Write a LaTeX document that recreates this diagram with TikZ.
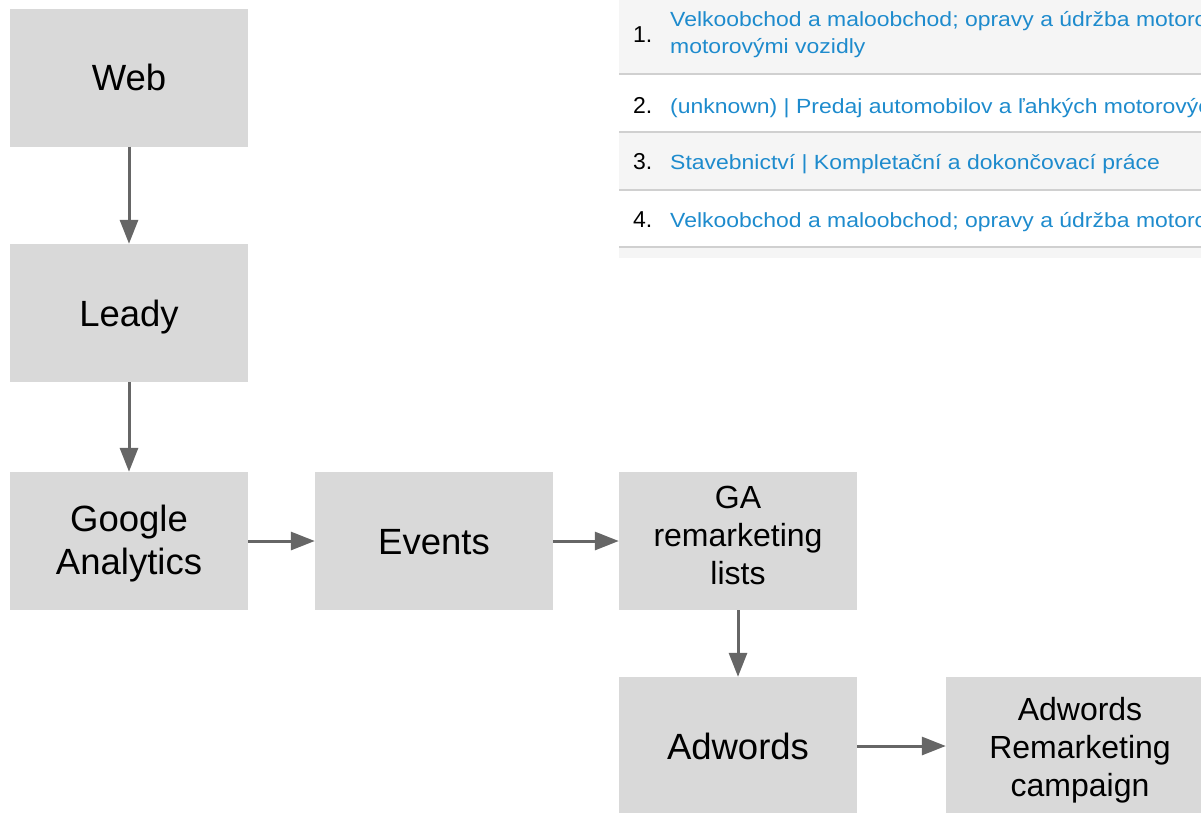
\documentclass[tikz,border=0pt]{standalone}
\usepackage{fontspec}
\setmainfont{Liberation Sans}
\newfontfamily\tablefont[FakeStretch=1.12]{Liberation Sans}
\usetikzlibrary{arrows.meta}
\definecolor{boxfill}{HTML}{D9D9D9}
\definecolor{arrowgray}{HTML}{666666}
\definecolor{linkblue}{HTML}{1E8BCD}
\definecolor{rowgray}{HTML}{F5F5F5}
\definecolor{rowline}{HTML}{D0D0D0}
\newcommand{\boxlines}[2]{\raisebox{#1}[\height][\depth]{\begin{tabular}{@{}c@{}}#2\end{tabular}}}
\tikzset{
  flowbox/.style={fill=boxfill, draw=none, minimum width=238pt, minimum height=138pt, inner sep=0pt, font=\fontsize{36.5}{42.5}\selectfont},
  smallbox/.style={flowbox, font=\fontsize{32}{38}\selectfont},
  flowarrow/.style={draw=arrowgray, line width=3pt, -{Triangle[length=24pt,width=18pt]}},
  rowtext/.style={anchor=base west, inner sep=0pt, text=linkblue, font=\tablefont\fontsize{20.5}{24}\selectfont},
  rownum/.style={anchor=base west, inner sep=0pt, text=black, font=\fontsize{23}{26}\selectfont},
}
\begin{document}
\begin{tikzpicture}[x=1pt,y=-1pt]
\useasboundingbox (0,0) rectangle (1201,812);
\clip (0,0) rectangle (1201,812);
% table screenshot
\begin{scope}
\clip (619,0) rectangle (1201,258);
\fill[rowgray] (619,0) rectangle (1201,73);
\fill[rowgray] (619,133) rectangle (1201,189);
\fill[rowgray] (619,248) rectangle (1201,258);
\draw[rowline, line width=2pt] (619,74) -- (1201,74);
\draw[rowline, line width=2pt] (619,132) -- (1201,132);
\draw[rowline, line width=2pt] (619,190) -- (1201,190);
\draw[rowline, line width=2pt] (619,247) -- (1201,247);
\node[rownum] (n1) at (633,42.7) {1.};
\node[rowtext] (t1a) at (670,26.7) {Velkoobchod a maloobchod; opravy a údržba motorových};
\node[rowtext] (t1b) at (670,53.3) {motorovými vozidly};
\node[rownum] (n2) at (633,113.3) {2.};
\node[rowtext] (t2) at (670,113.3) {(unknown) | Predaj automobilov a ľahkých motorových};
\node[rownum] (n3) at (633,169) {3.};
\node[rowtext] (t3) at (670,169) {Stavebnictví | Kompletační a dokončovací práce};
\node[rownum] (n4) at (633,227) {4.};
\node[rowtext] (t4) at (670,227) {Velkoobchod a maloobchod; opravy a údržba motorových};
\end{scope}
% flow boxes
\node[flowbox] (web) at (129,77.5) {\boxlines{-4.8pt}{Web}};
\node[flowbox] (leady) at (129,313) {\boxlines{-5pt}{Leady}};
\node[flowbox] (ga) at (129,541) {\boxlines{-3.5pt}{Google\\Analytics}};
\node[flowbox] (events) at (434,541) {\boxlines{-4.5pt}{Events}};
\node[smallbox] (galists) at (738,541) {\boxlines{2.6pt}{GA\\remarketing\\lists}};
\node[flowbox] (adwords) at (738,746) {\boxlines{-4.8pt}{Adwords}};
\node[smallbox, minimum width=268pt] (campaign) at (1080,746) {\boxlines{-4.4pt}{Adwords\\Remarketing\\campaign}};
% arrows
\draw[flowarrow] (web) -- (leady);
\draw[flowarrow] (leady) -- (ga);
\draw[flowarrow] (ga) -- (events);
\draw[flowarrow] (events) -- (galists);
\draw[flowarrow] (galists) -- (adwords);
\draw[flowarrow] (adwords) -- (campaign);
\end{tikzpicture}
\end{document}
